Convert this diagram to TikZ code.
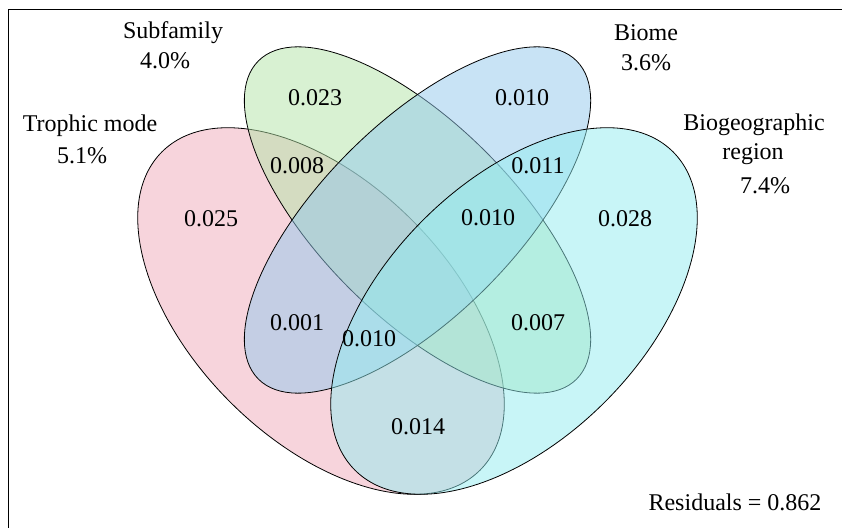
\documentclass[tikz,border=0pt]{standalone}
\usepackage{fontspec}
\setmainfont{Liberation Serif}
\usepackage{tikz}
\usetikzlibrary{positioning}
\usepackage{xcolor}
\definecolor{trophicpink}{RGB}{240,170,186}
\definecolor{subfamilygreen}{RGB}{178,228,166}
\definecolor{biomeblue}{RGB}{146,200,236}
\definecolor{regioncyan}{RGB}{146,236,240}
\tikzset{setfill/.style={fill opacity=0.5, draw=black, line width=0.8pt},setname/.style={align=center, inner sep=0pt, font=\fontsize{24}{30}\selectfont},regionvalue/.style={inner sep=0pt, font=\fontsize{24}{30}\selectfont}}

\begin{document}
\begin{tikzpicture}[
        line join=round,
        setfill/.style={fill opacity=0.5, draw=black, line width=0.8pt},
        setname/.style={align=center, inner sep=0pt, font=\fontsize{24}{30}\selectfont},
        regionvalue/.style={inner sep=0pt, font=\fontsize{24}{30}\selectfont}
    ]
        \useasboundingbox (0pt, 0pt) rectangle (842pt, 527pt);
        % Frame
        \draw[line width=1pt] (8pt, 517.5pt) rectangle (870pt, -30pt);
        % Ellipses
        \filldraw[setfill, fill=trophicpink] (321pt, 216pt) circle [x radius=225pt, y radius=128.6pt, rotate=-45];
        \filldraw[setfill, fill=subfamilygreen] (417.5pt, 307pt) circle [x radius=225pt, y radius=96.5pt, rotate=-45];
        \filldraw[setfill, fill=biomeblue] (417.5pt, 307pt) circle [x radius=225pt, y radius=96.5pt, rotate=45];
        \filldraw[setfill, fill=regioncyan] (514pt, 216pt) circle [x radius=225pt, y radius=128.6pt, rotate=45];
        % Set names
        \node[setname] (subfamily) at (173pt, 494pt) {Subfamily};
        \node[setname] (subfamilypct) at (165pt, 466pt) {4.0\%};
        \node[setname] (biome) at (646pt, 494pt) {Biome};
        \node[setname] (biomepct) at (646pt, 464pt) {3.6\%};
        \node[setname] (trophic) at (90pt, 401pt) {Trophic mode};
        \node[setname] (trophicpct) at (82pt, 371pt) {5.1\%};
        \node[setname] (biogeo) at (754pt, 402pt) {Biogeographic};
        \node[setname] (region) at (753pt, 373pt) {region};
        \node[setname] (regionpct) at (765pt, 341pt) {7.4\%};
        % Region values
        \node[regionvalue] (onlysub) at (315pt, 429pt) {0.023};
        \node[regionvalue] (onlybiome) at (522pt, 429pt) {0.010};
        \node[regionvalue] (trosub) at (297pt, 361pt) {0.008};
        \node[regionvalue] (biomereg) at (538pt, 361pt) {0.011};
        \node[regionvalue] (onlytro) at (211pt, 308pt) {0.025};
        \node[regionvalue] (subbioreg) at (488pt, 309pt) {0.010};
        \node[regionvalue] (onlyreg) at (625pt, 308pt) {0.028};
        \node[regionvalue] (trobiome) at (297pt, 204pt) {0.001};
        \node[regionvalue] (subreg) at (538pt, 204pt) {0.007};
        \node[regionvalue] (trobioreg) at (369pt, 188pt) {0.010};
        \node[regionvalue] (troreg) at (418pt, 100pt) {0.014};
        % Residuals
        \node[regionvalue] (residuals) at (735pt, 25pt) {Residuals = 0.862};
    \end{tikzpicture}
\end{document}
